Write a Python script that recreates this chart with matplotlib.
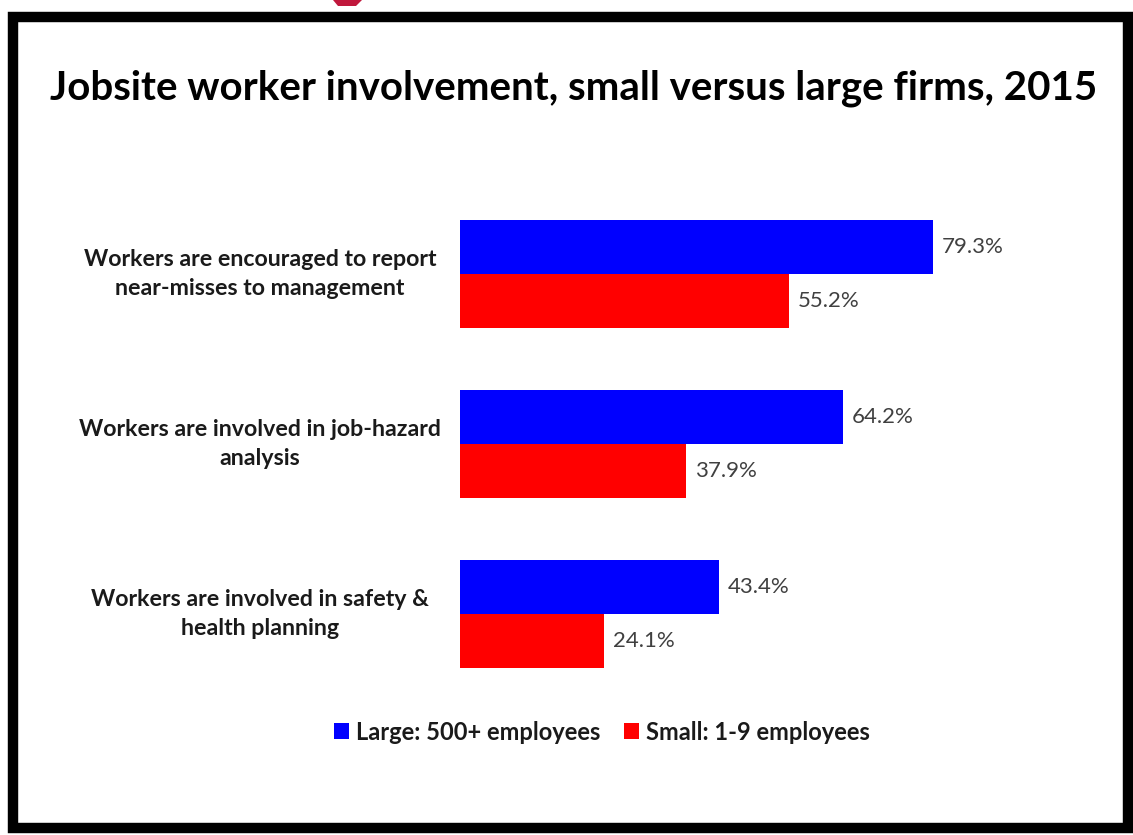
import matplotlib
matplotlib.use("Agg")
import matplotlib.pyplot as plt
from matplotlib.patches import Rectangle, Polygon
import numpy as np

plt.rcParams['font.family'] = ['Lato', 'DejaVu Sans']

# data
categories = ["Workers are encouraged to report\nnear-misses to management",
              "Workers are involved in job-hazard\nanalysis",
              "Workers are involved in safety &\nhealth planning"]
large = [79.3, 64.2, 43.4]
small = [55.2, 37.9, 24.1]
series_names = ["Large: 500+ employees", "Small: 1-9 employees"]
title = "Jobsite worker involvement, small versus large firms, 2015"

W, H = 1133, 835
fig = plt.figure(figsize=(W/100, H/100), dpi=100)
fig.patch.set_facecolor("white")

# black frame round the slide + the little red bit peeking in at the top
fig.patches.append(Polygon([[333/W, 1], [362/W, 1], [356/W, 1-6/H], [338/W, 1-6/H]],
                           closed=True, transform=fig.transFigure,
                           facecolor="#c0183c", edgecolor="none", zorder=0))
fig.patches.append(Rectangle((13/W, 7/H), 1115/W, 811/H, transform=fig.transFigure,
                             fill=False, edgecolor="black", linewidth=7.5, zorder=5))

# axes placed so x=0 sits at px 460 and 1% = 5.965 px
ax_l, ax_r = 460, 460 + 100*5.965
ax_t, ax_b = 189, 699
ax = fig.add_axes([ax_l/W, 1-ax_b/H, (ax_r-ax_l)/W, (ax_b-ax_t)/H])
ax.set_xlim(0, 100)
ax.set_ylim(2.5, -0.5)
ax.axis("off")

y = np.arange(len(categories))
h = 54/170
b1 = ax.barh(y - h/2, large, height=h, color="#0000ff", label=series_names[0])
b2 = ax.barh(y + h/2, small, height=h, color="#ff0000", label=series_names[1])

for bars, vals in ((b1, large), (b2, small)):
    for bar, v in zip(bars, vals):
        ax.annotate(f"{v:.1f}%", (v, bar.get_y() + bar.get_height()/2),
                    xytext=(9, 0), textcoords="offset pixels",
                    ha="left", va="center", fontsize=16, color="#404040")

for i, cat in enumerate(categories):
    ax.annotate(cat, (0, i), xytext=(-200, 0), textcoords="offset pixels",
                ha="center", va="center", fontsize=16.7, fontweight="bold",
                color="#1a1a1a", linespacing=1.48)

fig.text(574/W, 1-88/H, title, ha="center", va="center",
         fontsize=29, fontweight="bold", color="black")

leg = fig.legend(handles=[b1, b2], labels=series_names, loc="center",
                 bbox_to_anchor=(602/W, 1-732/H), ncol=2, frameon=False,
                 handlelength=0.65, handleheight=0.65, handletextpad=0.3,
                 columnspacing=1.0, prop={"weight": "bold", "size": 17})
for t in leg.get_texts():
    t.set_color("#1a1a1a")

fig.savefig("out.png", dpi=100)
